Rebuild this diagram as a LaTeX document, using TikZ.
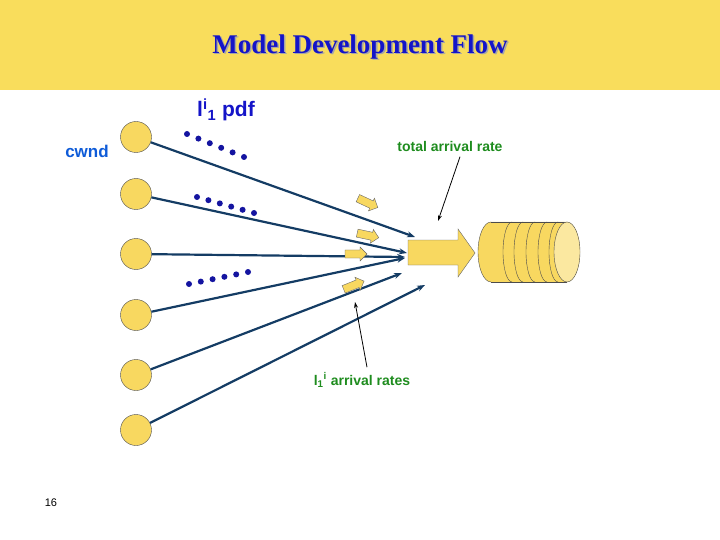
\documentclass[tikz,border=0pt]{standalone}
\usepackage{fontspec}
\setmainfont{Liberation Serif}
\newfontfamily\arial{Liberation Sans}
\usetikzlibrary{arrows.meta,shapes.arrows}
\definecolor{band}{RGB}{249,221,92}
\definecolor{yel}{RGB}{248,216,96}
\definecolor{navy}{RGB}{20,60,100}
\definecolor{tblue}{RGB}{20,20,200}
\definecolor{gr}{RGB}{30,140,30}
\definecolor{dotc}{RGB}{20,20,160}
\begin{document}
\begin{tikzpicture}[x=1pt,y=-1pt,
  src/.style={circle,draw=black!70,fill=yel,minimum size=31pt,inner sep=0pt},
  flow/.style={navy,line width=2.2pt,-{Stealth[length=8pt,width=6pt]}},
  dot/.style={circle,fill=dotc,inner sep=0pt,minimum size=6pt},
  small/.style={single arrow,draw=black!60,fill=yel,minimum height=22pt,minimum width=14pt,single arrow head extend=2pt,inner sep=2.5pt},
  call/.style={black,line width=0.8pt,-{Stealth[length=6pt,width=4pt]}}]
\useasboundingbox (0,0) rectangle (720,540);
\fill[band] (0,0) rectangle (720,90);
\node[font=\bfseries\fontsize{27}{30}\selectfont,text=black!35] at (361.5,48.5) {Model Development Flow};
\node[font=\bfseries\fontsize{27}{30}\selectfont,text=tblue] (title) at (360,47) {Model Development Flow};
\foreach \n/\y in {1/137,2/194,3/254,4/315,5/375,6/430} \node[src] (s\n) at (136,\y) {};
\coordinate (e1) at (415,237); \coordinate (e2) at (407,253); \coordinate (e3) at (405,257);
\coordinate (e4) at (405,258); \coordinate (e5) at (402,273); \coordinate (e6) at (425,285);
\draw[flow] (s1) -- (e1); \draw[flow] (s2) -- (e2); \draw[flow] (s3) -- (e3);
\draw[flow] (s4) -- (e4); \draw[flow] (s5) -- (e5); \draw[flow] (s6) -- (e6);
% big arrow
\draw[black!60,fill=yel] (408,240) -- (458,240) -- (458,229) -- (475,253) -- (458,277) -- (458,265) -- (408,265) -- cycle;
\coordinate (big) at (440,253);
% cylinder
\fill[yel] (491,222) -- (567,222) arc[start angle=270,end angle=450,x radius=13,y radius=30] -- (491,282) arc[start angle=90,end angle=270,x radius=13,y radius=30] -- cycle;
\draw[black!70] (491,222) -- (567,222) (491,282) -- (567,282);
\draw[black!70] (491,222) arc[start angle=270,end angle=90,x radius=13,y radius=30];
\foreach \x in {512,523,535,547,558} \draw[black!70] (\x,222) arc[start angle=270,end angle=90,x radius=9,y radius=30];
\draw[black!70,fill=yel!60] (567,252) ellipse[x radius=13,y radius=30];
% dots
\foreach \i in {0,...,5} \node[dot] (a\i) at ({187+\i*11.4},{134+\i*4.6}) {};
\foreach \i in {0,...,5} \node[dot] (b\i) at ({197+\i*11.4},{197+\i*3.2}) {};
\foreach \i in {0,...,5} \node[dot] (c\i) at ({189+\i*11.8},{284-\i*2.4}) {};
% small arrows
\node[small,rotate=-25] (m1) at (366,202) {};
\node[small,rotate=-12] (m2) at (366,235) {};
\node[small] (m3) at (354,254) {};
\node[small,rotate=22] (m4) at (352,286) {};
% labels
\node[text=tblue,font=\arial\bfseries\fontsize{21}{24}\selectfont] (pdf) at (226,110) {l\textsuperscript{i}\textsubscript{1} pdf};
\node[text=tblue!70!cyan,font=\arial\bfseries\fontsize{17}{20}\selectfont] (cw) at (87,151) {cwnd};
\node[text=gr,font=\arial\bfseries\fontsize{14}{16}\selectfont] (tot) at (450,146) {total arrival rate};
\node[text=gr,font=\arial\bfseries\fontsize{14}{16}\selectfont] (arr) at (362,380) {l\textsubscript{1}\textsuperscript{i} arrival rates};
\node[font=\arial\fontsize{11}{13}\selectfont] (pg) at (51,503) {16};
\coordinate (t1) at (438,221); \coordinate (t2) at (355,302);
\draw[call] (tot.south) ++(10,2) -- (t1);
\draw[call] (arr.north) ++(5,-2) -- (t2);
\end{tikzpicture}
\end{document}
